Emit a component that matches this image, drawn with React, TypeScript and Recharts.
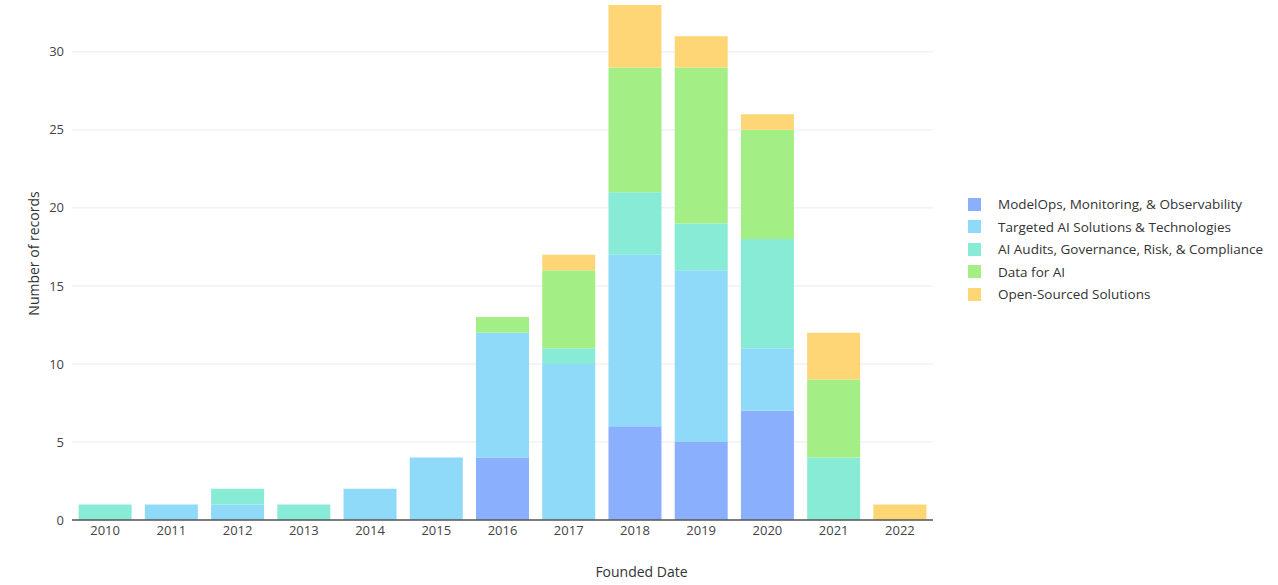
import React from "react";
import { BarChart, Bar, XAxis, YAxis, CartesianGrid, Label } from "recharts";

const years = ["2010", "2011", "2012", "2013", "2014", "2015", "2016", "2017", "2018", "2019", "2020", "2021", "2022"];

const modelOps = [0, 0, 0, 0, 0, 0, 4, 0, 6, 5, 7, 0, 0];
const targeted = [0, 1, 1, 0, 2, 4, 8, 10, 11, 11, 4, 0, 0];
const audits = [1, 0, 1, 1, 0, 0, 0, 1, 4, 3, 7, 4, 0];
const dataForAI = [0, 0, 0, 0, 0, 0, 1, 5, 8, 10, 7, 5, 0];
const openSourced = [0, 0, 0, 0, 0, 0, 0, 1, 4, 2, 1, 3, 1];

const yTicks = [0, 5, 10, 15, 20, 25, 30];
const yMax = 33;

const series = [
  { key: "modelOps", name: "ModelOps, Monitoring, & Observability", values: modelOps, color: "#8AB0FD" },
  { key: "targeted", name: "Targeted AI Solutions & Technologies", values: targeted, color: "#8FDAF8" },
  { key: "audits", name: "AI Audits, Governance, Risk, & Compliance", values: audits, color: "#87EBD5" },
  { key: "dataForAI", name: "Data for AI", values: dataForAI, color: "#A3EF86" },
  { key: "openSourced", name: "Open-Sourced Solutions", values: openSourced, color: "#FFD675" },
];

const data = years.map((year, i) => {
  const row: Record<string, string | number> = { year };
  series.forEach((s) => {
    row[s.key] = s.values[i];
  });
  return row;
});

const FONT = "'Open Sans', 'Noto Sans', sans-serif";

// grid lines only at the labelled ticks, not at the top of the domain
function gridRows({ offset }: any) {
  return yTicks.map((t) => offset.top + offset.height * (1 - t / yMax));
}

export default function App() {
  return (
    <div style={{ position: "relative", width: 1278, height: 585, fontFamily: FONT }}>
      <style>{"body{margin:0;}"}</style>
      <BarChart
        width={1278}
        height={585}
        data={data}
        margin={{ top: 5, right: 345, bottom: 0, left: 0 }}
        barCategoryGap="10%"
      >
        <CartesianGrid vertical={false} stroke="#ebebeb" horizontalCoordinatesGenerator={gridRows} />
        <XAxis
          dataKey="year"
          height={65}
          tickLine={false}
          axisLine={{ stroke: "#555", strokeWidth: 1.5 }}
          tick={{ fill: "#444", fontSize: 13, fontFamily: FONT }}
          tickMargin={0}
        >
          <Label value="Founded Date" position="insideBottom" offset={8} dx={139} fill="#333" fontSize={14} fontFamily={FONT} />
        </XAxis>
        <YAxis
          width={72}
          domain={[0, yMax]}
          ticks={yTicks}
          allowDataOverflow
          tickLine={false}
          axisLine={false}
          tick={{ fill: "#444", fontSize: 13, fontFamily: FONT }}
          tickMargin={2}
        >
          <Label
            value="Number of records"
            angle={-90}
            position="insideLeft"
            offset={34}
            dy={-9}
            style={{ textAnchor: "middle" }}
            fill="#333"
            fontSize={14}
            fontFamily={FONT}
          />
        </YAxis>
        {series.map((s) => (
          <Bar
            key={s.key}
            dataKey={s.key}
            name={s.name}
            stackId="a"
            fill={s.color}
            isAnimationActive={false}
          />
        ))}
      </BarChart>
      <div style={{ position: "absolute", left: 968, top: 193 }}>
        {series.map((s) => (
          <div key={s.key} style={{ display: "flex", alignItems: "center", height: 22.5 }}>
            <span style={{ display: "inline-block", width: 13, height: 13, background: s.color, marginRight: 17 }} />
            <span style={{ fontSize: 13.5, color: "#333", whiteSpace: "nowrap" }}>{s.name}</span>
          </div>
        ))}
      </div>
    </div>
  );
}
